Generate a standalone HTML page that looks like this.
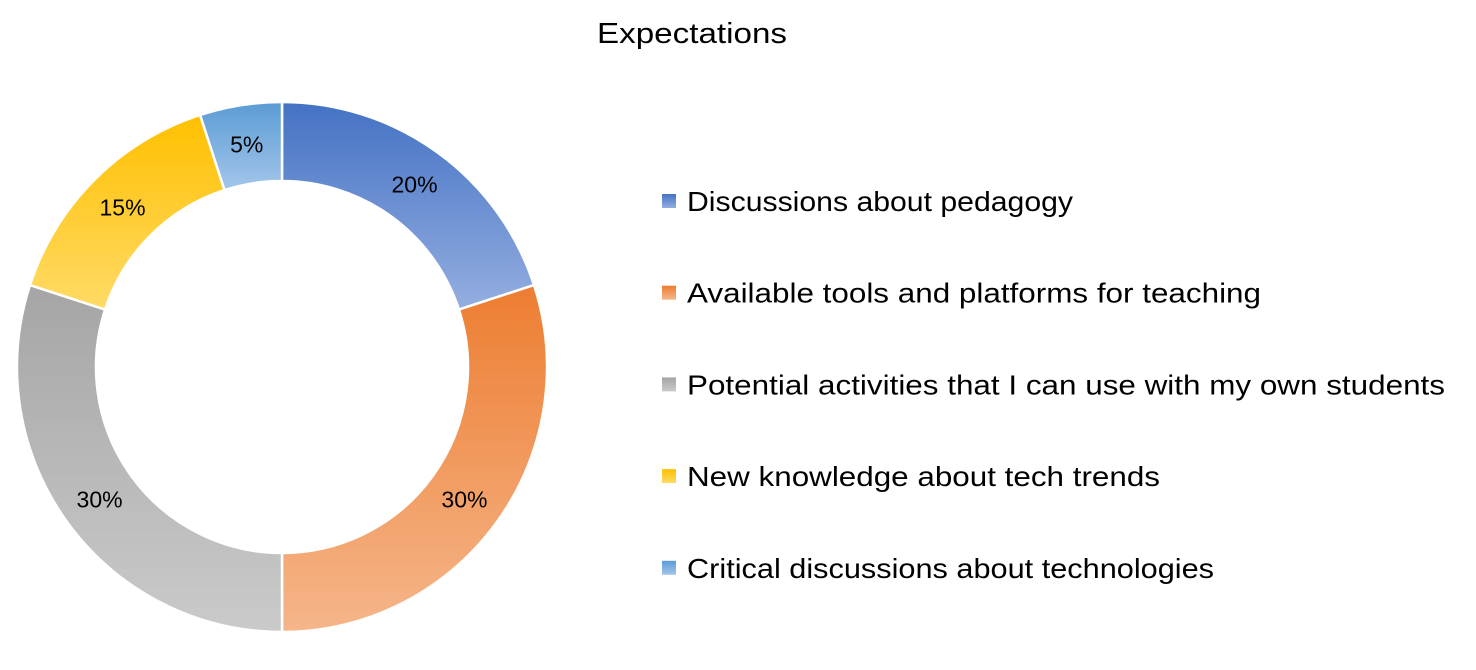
<!DOCTYPE html>
<html><head><meta charset="utf-8"><style>
body{margin:0;background:#fff;}
svg{display:block;font-family:"Liberation Sans",sans-serif;}
</style></head><body>
<svg id="chart" width="1476" height="670" viewBox="0 0 1476 670" xmlns="http://www.w3.org/2000/svg">
<defs id="defs"></defs>
<text x="597" y="43" font-size="29" textLength="190" lengthAdjust="spacingAndGlyphs" fill="#000">Expectations</text>
<g id="slices"></g>
<g id="labels"></g>
<g id="legend"></g>
</svg>
<script>
const categories=["Discussions about pedagogy","Available tools and platforms for teaching","Potential activities that I can use with my own students","New knowledge about tech trends","Critical discussions about technologies"];
const values=[20,30,30,15,5];
const labels=["20%","30%","30%","15%","5%"];
const colorsTop=["#4472C4","#ED7D31","#A5A5A5","#FFC000","#5B9BD5"];
const colorsBottom=["#94AEE0","#F5B68A","#CACACA","#FFDA66","#A3C6EA"];
const legendWidths=[386,574,758,473,527];
const NS="http://www.w3.org/2000/svg";
const cx=282,cy=367,R=265,r=186;
const defs=document.getElementById('defs'),gS=document.getElementById('slices'),gL=document.getElementById('labels'),gLeg=document.getElementById('legend');
const total=values.reduce((a,b)=>a+b,0);
function pt(a,rad){return [cx+rad*Math.sin(a),cy-rad*Math.cos(a)];}
let acc=0;
values.forEach((v,i)=>{
  const a0=acc/total*2*Math.PI,a1=(acc+v)/total*2*Math.PI;acc+=v;
  const lg=document.createElementNS(NS,'linearGradient');
  lg.setAttribute('id','g'+i);lg.setAttribute('x1','0');lg.setAttribute('y1','0');lg.setAttribute('x2','0');lg.setAttribute('y2','1');
  lg.innerHTML=`<stop offset="0" stop-color="${colorsTop[i]}"/><stop offset="1" stop-color="${colorsBottom[i]}"/>`;
  defs.appendChild(lg);
  const large=(a1-a0)>Math.PI?1:0;
  const [x0,y0]=pt(a0,R),[x1,y1]=pt(a1,R),[x2,y2]=pt(a1,r),[x3,y3]=pt(a0,r);
  const p=document.createElementNS(NS,'path');
  p.setAttribute('d',`M${x0},${y0}A${R},${R} 0 ${large} 1 ${x1},${y1}L${x2},${y2}A${r},${r} 0 ${large} 0 ${x3},${y3}Z`);
  p.setAttribute('fill',`url(#g${i})`);p.setAttribute('stroke','#fff');p.setAttribute('stroke-width','2.5');
  
  
  gS.appendChild(p);
  const am=(a0+a1)/2,[lx,ly]=pt(am,(R+r)/2);
  const t=document.createElementNS(NS,'text');
  t.setAttribute('x',lx);t.setAttribute('y',ly+8);t.setAttribute('font-size','23');t.setAttribute('text-anchor','middle');
  t.textContent=labels[i];
  
  
  gL.appendChild(t);
  const y=201+i*91.7;
  const g=document.createElementNS(NS,'g');
  
  
  g.innerHTML=`<rect x="662" y="${y-7}" width="14" height="14" fill="url(#g${i})"/><text x="687" y="${y+10}" font-size="28" textLength="${legendWidths[i]}" lengthAdjust="spacingAndGlyphs" fill="#000">${categories[i]}</text>`;
  gLeg.appendChild(g);
});
</script>
</body></html>
